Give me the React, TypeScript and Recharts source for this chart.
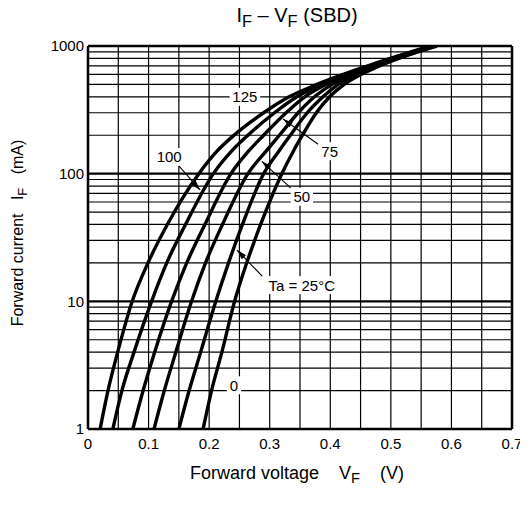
import { LineChart, Line, XAxis, YAxis, ReferenceLine, ReferenceDot } from "recharts";

const FONT = '"Liberation Sans", Arial, Helvetica, sans-serif';

// forward current points (mA), shared by every curve
const currents = [1, 2, 4, 10, 20, 40, 100, 150, 200, 300, 400, 500, 700, 1000];

// forward voltage (V)
const vf125 = [0.02, 0.033, 0.049, 0.073, 0.099, 0.131, 0.183, 0.213, 0.241, 0.29, 0.332, 0.378, 0.462, 0.565];
const vf100 = [0.041, 0.056, 0.076, 0.105, 0.13, 0.161, 0.207, 0.237, 0.264, 0.308, 0.345, 0.386, 0.466, 0.567];
const vf75 = [0.074, 0.091, 0.11, 0.138, 0.163, 0.193, 0.236, 0.265, 0.29, 0.327, 0.358, 0.393, 0.47, 0.569];
const vf50 = [0.109, 0.126, 0.145, 0.171, 0.194, 0.222, 0.264, 0.294, 0.316, 0.347, 0.374, 0.403, 0.475, 0.571];
const vf25 = [0.15, 0.167, 0.186, 0.211, 0.232, 0.255, 0.29, 0.315, 0.334, 0.362, 0.388, 0.413, 0.479, 0.573];
const vf0 = [0.19, 0.204, 0.221, 0.242, 0.262, 0.285, 0.32, 0.339, 0.354, 0.377, 0.399, 0.423, 0.482, 0.576];

const xTicks = [0, 0.1, 0.2, 0.3, 0.4, 0.5, 0.6, 0.7];
const yTicks = [1, 10, 100, 1000];
const xGrid = [0.05, 0.1, 0.15, 0.2, 0.25, 0.3, 0.35, 0.4, 0.45, 0.5, 0.55, 0.6, 0.65];
const yGrid = [2, 3, 4, 5, 6, 7, 8, 9, 20, 30, 40, 50, 60, 70, 80, 90, 200, 300, 400, 500, 600, 700, 800, 900];
const yDecades = [10, 100];

const curveLabels = [
  { text: "125", v: 0.259, i: 400 },
  { text: "100", v: 0.134, i: 135 },
  { text: "75", v: 0.399, i: 150 },
  { text: "50", v: 0.353, i: 66 },
  { text: "Ta = 25°C", v: 0.353, i: 13.4 },
  { text: "0", v: 0.241, i: 2.2 },
];

const arrows = [
  { v1: 0.1485, i1: 117, v2: 0.185, i2: 74.5 },
  { v1: 0.38, i1: 170, v2: 0.322, i2: 268 },
  { v1: 0.335, i1: 77, v2: 0.287, i2: 125 },
  { v1: 0.292, i1: 15, v2: 0.246, i2: 25.2 },
];

const series = [
  { name: "125", vf: vf125 },
  { name: "100", vf: vf100 },
  { name: "75", vf: vf75 },
  { name: "50", vf: vf50 },
  { name: "25", vf: vf25 },
  { name: "0", vf: vf0 },
].map((s) => ({ name: s.name, rows: currents.map((i, k) => ({ v: s.vf[k], i })) }));

function Sub({ children }: { children: string }) {
  return <span style={{ fontSize: "0.82em", position: "relative", top: "0.3em" }}>{children}</span>;
}

function CurveLabel(props: any) {
  const { cx, cy, text } = props;
  const w = text.length * 8.2 + 6;
  return (
    <g>
      <rect x={cx - w / 2} y={cy - 9} width={w} height={18} fill="#fff" />
      <text x={cx} y={cy} dy="0.36em" textAnchor="middle" fontSize={15} fontFamily={FONT} fill="#000">
        {text}
      </text>
    </g>
  );
}

export default function App() {
  return (
    <div style={{ position: "relative", width: 520, height: 497, fontFamily: FONT, color: "#000" }}>
      <svg width={0} height={0} style={{ position: "absolute" }}>
        <defs>
          <marker id="arrowHead" viewBox="0 0 10 6" refX={10} refY={3} markerWidth={10} markerHeight={6} markerUnits="userSpaceOnUse" orient="auto">
            <path d="M0,0 L10,3 L0,6 z" fill="#000" />
          </marker>
        </defs>
      </svg>
      <div style={{ position: "absolute", left: 289, top: 7, transform: "translate(-50%, -50%)", fontSize: 20, whiteSpace: "pre" }}>
        I<Sub>F</Sub> – V<Sub>F</Sub> (SBD)
      </div>
      <LineChart width={520} height={497} margin={{ top: 38, right: 16, bottom: 46, left: 0 }}>
        <XAxis
          type="number"
          dataKey="v"
          domain={[0, 0.7]}
          ticks={xTicks}
          tickFormatter={(v) => String(v)}
          axisLine={false}
          tickLine={false}
          tickSize={0}
          tickMargin={9}
          height={30}
          tick={{ fill: "#000", fontSize: 15, fontFamily: FONT }}
        />
        <YAxis
          type="number"
          scale="log"
          domain={[1, 1000]}
          allowDataOverflow
          ticks={yTicks}
          axisLine={false}
          tickLine={false}
          tickSize={0}
          tickMargin={4}
          width={80}
          tick={{ fill: "#000", fontSize: 15, fontFamily: FONT }}
        />
        {xGrid.map((x) => (
          <ReferenceLine key={"gx" + x} x={x} stroke="#000" strokeWidth={1.2} />
        ))}
        {yGrid.map((y) => (
          <ReferenceLine key={"gy" + y} y={y} stroke="#000" strokeWidth={1.2} />
        ))}
        {yDecades.map((y) => (
          <ReferenceLine key={"gd" + y} y={y} stroke="#000" strokeWidth={2.2} />
        ))}
        <ReferenceLine x={0} stroke="#000" strokeWidth={2.5} />
        <ReferenceLine x={0.7} stroke="#000" strokeWidth={2.5} />
        <ReferenceLine y={1} stroke="#000" strokeWidth={2.5} />
        <ReferenceLine y={1000} stroke="#000" strokeWidth={2.5} />
        {curveLabels.map((l) => (
          <ReferenceDot key={l.text} x={l.v} y={l.i} r={1} shape={(p: any) => <CurveLabel {...p} text={l.text} />} />
        ))}
        {series.map((s) => (
          <Line
            key={s.name}
            data={s.rows}
            dataKey="i"
            name={s.name}
            type="monotone"
            stroke="#000"
            strokeWidth={3.4}
            dot={false}
            activeDot={false}
            isAnimationActive={false}
          />
        ))}
        {arrows.map((a, k) => (
          <ReferenceLine
            key={"ar" + k}
            segment={[
              { x: a.v1, y: a.i1 },
              { x: a.v2, y: a.i2 },
            ]}
            shape={(p: any) => (
              <line x1={p.x1} y1={p.y1} x2={p.x2} y2={p.y2} stroke="#000" strokeWidth={1.1} markerEnd="url(#arrowHead)" />
            )}
          />
        ))}
      </LineChart>
      <div style={{ position: "absolute", left: 289, top: 465, transform: "translate(-50%, -50%)", fontSize: 18, whiteSpace: "pre" }}>
        Forward voltage    V<Sub>F</Sub>    (V)
      </div>
      <div
        style={{
          position: "absolute",
          left: 10,
          top: 225,
          transform: "translate(-50%, -50%) rotate(-90deg)",
          fontSize: 16,
          whiteSpace: "pre",
        }}
      >
        Forward current   I<Sub>F</Sub>   (mA)
      </div>
    </div>
  );
}
